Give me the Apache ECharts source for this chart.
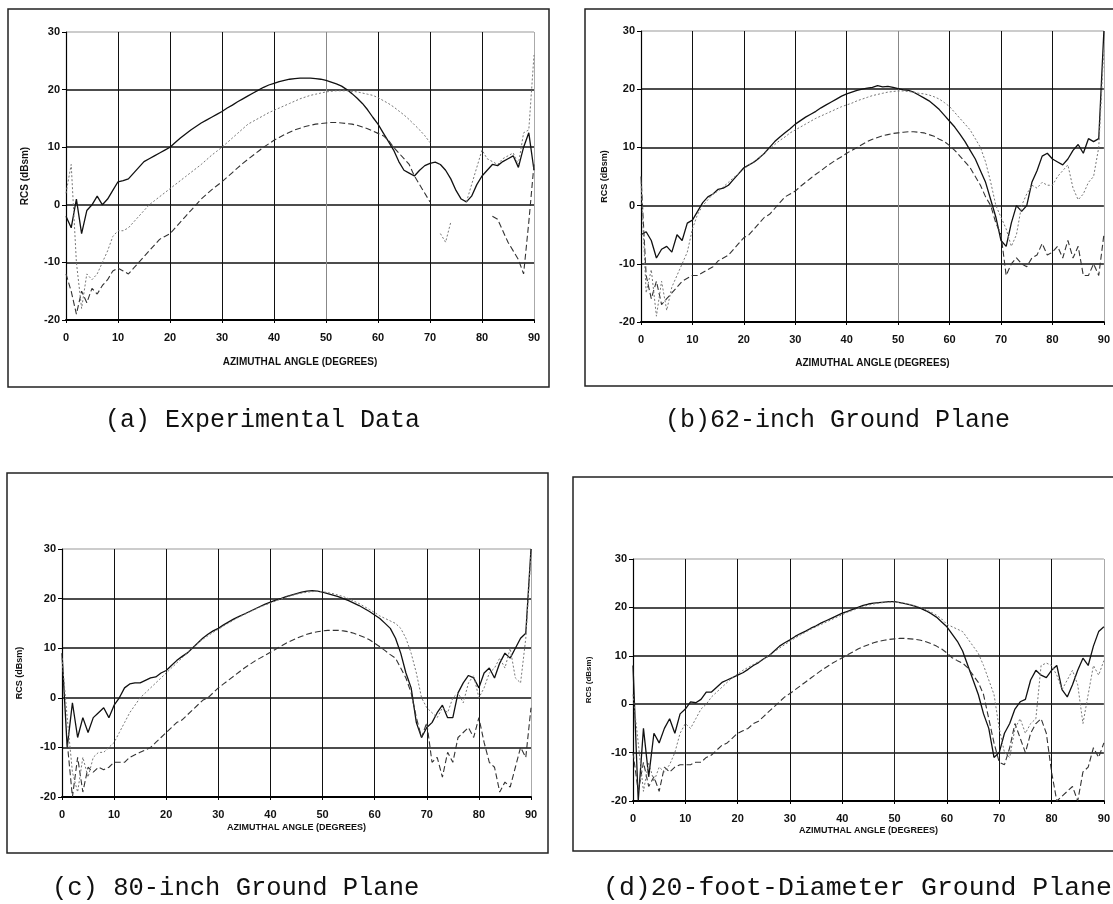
<!DOCTYPE html>
<html>
<head>
<meta charset="utf-8">
<script src="https://cdn.jsdelivr.net/npm/echarts@6/dist/echarts.min.js"></script>
<style>
html,body{margin:0;padding:0;background:#fff;}
#chart{width:1113px;height:904px;}
</style>
</head>
<body>
<div id="chart"></div>
<script>
// ---- shared axis values ----
const angles = [0,1,2,3,4,5,6,7,8,9,10,11,12,13,14,15,16,17,18,19,20,21,22,23,24,25,26,27,28,29,30,31,32,33,34,35,36,37,38,39,40,41,42,43,44,45,46,47,48,49,50,51,52,53,54,55,56,57,58,59,60,61,62,63,64,65,66,67,68,69,70,71,72,73,74,75,76,77,78,79,80,81,82,83,84,85,86,87,88,89,90];
const xTicks = [0,10,20,30,40,50,60,70,80,90];
const yTicks = [-20,-10,0,10,20,30];
const xName = 'AZIMUTHAL ANGLE (DEGREES)';
const yName = 'RCS (dBsm)';
const captions = ['(a) Experimental Data', '(b)62-inch Ground Plane', '(c) 80-inch Ground Plane', '(d)20-foot-Diameter Ground Plane'];

// ---- (a) Experimental Data ----
const a_solid = [-2,-4,1,-5,-1,0,1.5,0,1,2.5,
4,4.2,4.5,5.5,6.5,7.5,8,8.5,9,9.5,
10,10.8,11.6,12.3,13,13.6,14.2,14.7,15.2,15.7,
16.2,16.8,17.3,17.9,18.4,18.9,19.4,19.9,20.4,20.8,
21.1,21.4,21.6,21.8,21.9,22,22,22,21.9,21.8,
21.6,21.3,21,20.6,20,19.3,18.5,17.6,16.5,15.2,
14,12.5,11,9.5,7.5,6,5.5,5,6,6.8,
7.2,7.4,7,6,4.5,2.5,1,0.5,1.5,3.5,
5,6,7,6.8,7.5,8,8.5,6.5,10,12.5,
6];
const a_dashed = [-12,-15,-19,-15,-17,-14.5,-15.5,-14,-13,-11.5,
-11,-11.5,-12,-11,-10,-9,-8,-7,-6,-5.5,
-5,-4,-3,-2,-1,0,1,1.8,2.6,3.3,
4,4.8,5.6,6.4,7.2,7.9,8.6,9.3,10,10.6,
11.2,11.7,12.2,12.6,13,13.3,13.6,13.8,14,14.1,
14.2,14.3,14.3,14.2,14.1,14,13.8,13.5,13.2,12.8,
12.4,12,11.2,10,9,8,7,5,3.5,2,
0.5,null,null,null,null,null,null,null,null,null,
null,null,-2,-2.5,-4.5,-6.5,-8,-9.5,-12,-3,
7];
const a_dotted = [2,7,-10,-18,-12,-13,-12,-10,-8,-5.5,
-4.5,-4.5,-4,-3,-2,-1,0,0.7,1.4,2.1,
2.8,3.5,4.2,4.9,5.6,6.3,7,7.8,8.6,9.3,
10,10.8,11.6,12.4,13.2,14,14.5,15,15.5,16,
16.4,16.8,17.2,17.6,18,18.4,18.7,19,19.2,19.4,
19.6,19.7,19.8,19.8,19.8,19.7,19.6,19.4,19.2,19,
18.6,18.1,17.6,17,16.3,15.6,14.8,13.9,13,12,
10.8,null,-5,-6.5,-3,null,null,0.5,3.5,6.5,
9.5,8,7.5,7,8,8.5,9,7,12.5,13,
26];

// ---- (b) 62-inch Ground Plane ----
const b_solid = [-5,-4.5,-6,-9,-7.5,-7,-8,-5,-6,-3,
-2.5,-1,0.5,1.5,2,2.8,3,3.5,4.5,5.5,
6.5,7,7.5,8.2,9,10,11,11.8,12.5,13.2,
14,14.6,15.2,15.7,16.2,16.8,17.3,17.8,18.3,18.8,
19.2,19.5,19.8,20,20.2,20.3,20.6,20.4,20.5,20.3,
20.1,19.9,19.8,19.5,19,18.5,18,17.3,16.5,15.5,
14.5,13.5,12.3,11,9.5,8,6,4,1,-2,
-6,-7,-3,0,-1,0,4,6,8.5,9,
8,7.5,7,8,9.5,10.5,9,11.5,11,11.5,
30];
const b_dashed = [5,-12,-16,-13,-17,-16,-15,-14,-13,-12.5,
-12,-12,-11.5,-11,-10.5,-9.5,-9,-8.5,-7.5,-6.5,
-5.5,-5,-4,-3,-2,-1.5,-0.5,0.5,1.5,2,
2.5,3.3,4,4.7,5.4,6,6.7,7.3,7.9,8.4,
9,9.5,10,10.5,11,11.4,11.7,12,12.2,12.4,
12.5,12.6,12.7,12.7,12.6,12.5,12.2,11.9,11.4,11,
10.3,9.5,8.5,7.5,6.5,5,3.5,1.5,0,-3,
-5,-12,-10,-9,-10,-10.5,-9,-8.5,-6.5,-8.5,
-8,-7,-9,-6,-9,-7,-12,-12,-10,-12,
-5];
const b_dotted = [4,-15,-11,-19,-13,-18,-14,-12,-10,-8,
-4,-1.5,0,1,2,2.5,3.2,4,4.8,5.5,
6.2,7,7.6,8.3,9,9.8,10.5,11.2,11.8,12.5,
13,13.5,14,14.5,15,15.4,15.8,16.2,16.6,17,
17.3,17.6,18,18.3,18.6,18.9,19.1,19.3,19.5,19.6,
19.7,19.7,19.6,19.5,19.3,19.2,19,18.7,18.3,17.7,
17,16,15,14,13,11.5,10,7.5,4,0,
-2,-4,-7,-5,0,2,3.5,3,4,3.5,
3.5,5,6,7,3,1,2,4,5,10,
27];

// ---- (c) 80-inch Ground Plane ----
const c_solid = [9,-10,-1,-8,-4,-7,-4,-3,-2,-4,
-1.5,0,2,2.8,3,3,3.5,4,4.2,5,
5.5,6.5,7.5,8.3,9,10,11,12,12.8,13.5,
14,14.7,15.3,15.9,16.4,16.9,17.4,17.9,18.4,18.9,
19.3,19.7,20,20.4,20.7,21,21.3,21.5,21.6,21.5,
21.3,21,20.7,20.4,20,19.6,19.1,18.6,18,17.4,
16.7,16,15,14,12,9,5,2,-5,-8,
-6,-5,-3,-1.5,-4,-4,1,3,4.5,4,
2,5,6,4,7,9,8,10,12,13,
30];
const c_dashed = [null,-9,-20,-12,-19,-14,-15,-14,-14.5,-14,
-13,-13,-13,-12,-11.5,-11,-10.5,-10,-9,-8,
-7,-6,-5,-4.5,-3.5,-2.5,-1.5,-0.5,0,1,
2,2.8,3.6,4.4,5.2,6,6.7,7.4,8,8.6,
9.2,9.8,10.4,11,11.5,12,12.4,12.8,13.1,13.3,
13.5,13.6,13.6,13.6,13.5,13.3,13,12.6,12.2,11.7,
11,10.3,9.5,8.7,8,6,4,1,-4,-8,
-5,-13,-12,-16,-11,-13,-8,-7,-6,-8,
-4,-9,-13,-14,-19,-17,-18,-14,-10,-12,
-2];
const c_dotted = [8,-4,-15,-19,-12,-16,-12,-11,-11,-10,
-9,-7,-5,-3,-1.5,0,1,2,3,4,
5,6,7,8,9,10,11,11.8,12.5,13.2,
13.8,14.5,15.1,15.7,16.3,16.8,17.3,17.8,18.3,18.7,
19.1,19.5,19.9,20.3,20.6,20.9,21.1,21.3,21.4,21.5,
21.4,21.2,21,20.7,20.4,20,19.5,19,18.4,17.8,
17.2,16.5,16,15.5,15,14,12,9,5,0,
-2,-3,-4,-2,-3,0,1,-1,3,4.5,
0,2,5,6,8,6,10,4,3,12,
29];

// ---- (d) 20-foot-Diameter Ground Plane ----
const d_solid = [8,-20,-5,-15,-6,-8,-5,-3,-6,-2,
-1,0.5,0.3,1,2.5,2.5,3.5,4.5,5,5.5,
6,6.5,7.2,8,8.6,9.4,10,11,12,12.7,
13.3,14,14.6,15.1,15.7,16.2,16.8,17.3,17.8,18.3,
18.8,19.2,19.6,20,20.4,20.7,20.9,21,21.1,21.2,
21.2,21,20.8,20.5,20.2,19.8,19.3,18.7,18,17,
16,14.5,13,11,8,5,2,-2,-5,-11,
-10,-6,-4,-1,0.5,1,5,7,6,5.5,
7,8,3,1.5,4,7,9.5,8,12,15,
16];
const d_dashed = [-10,-18,-12,-17,-15,-18,-13,-14,-13,-12.5,
-12.5,-12.5,-12,-12,-11,-10.5,-9.5,-8.5,-8,-7,
-6,-5.5,-5,-4,-3.5,-2.5,-1.5,-0.5,0.5,1.5,
2.2,3,3.8,4.6,5.4,6.2,7,7.7,8.4,9,
9.6,10.2,10.8,11.4,11.9,12.3,12.7,13,13.2,13.4,
13.5,13.6,13.6,13.5,13.4,13.2,12.9,12.5,12,11.4,
10.6,9.6,9,8.5,7.5,6,4.5,2,-3,-8,
-12,-12.5,-9,-4,-7,-10,-6,-4,-3,-6,
-14,-20,-19,-18,-17,-20,-14,-13,-9,-11,
-8];
const d_dotted = [2,-8,-18,-12,-16,-13,-14,-12.5,-10,-6,
-4,-5,-3,-1,0,1.5,2.5,3.5,4.5,5.5,
6.2,7,7.6,8.2,8.8,9.3,10,10.8,11.6,12.3,
13,13.7,14.3,14.9,15.5,16,16.5,17,17.5,18,
18.5,19,19.4,19.8,20.2,20.5,20.7,20.9,21,21.1,
21.1,21,20.8,20.6,20.3,20,19.5,19,18.4,17.6,
16.5,16,15.5,15,13.5,12,10.5,8,5,2,
-5,-10,-11,-5,-3,-6,-4,-3,8,8.5,
8,6,3,5,7,4,-4,2,8,6,
9];

const panelData = [
  [a_solid, a_dashed, a_dotted],
  [b_solid, b_dashed, b_dotted],
  [c_solid, c_dashed, c_dotted],
  [d_solid, d_dashed, d_dotted]
];

// ---- layout (pixels) ----
const layout = [
  {grid:{left:66, top:32, width:468, height:288}, frame:[8,9,541,378], xGap:37, yGap:36, xNameSize:10, yNameSize:10, cap:[105,420], capSize:25, mid:'#888'},
  {grid:{left:641, top:31, width:466, height:291}, frame:[585,9,540,377], xGap:36, yGap:32, xNameSize:10, yNameSize:9, cap:[665,420], capSize:25, mid:'#888'},
  {grid:{left:62, top:549, width:469, height:248}, frame:[7,473,541,380], xGap:26, yGap:38, xNameSize:9, yNameSize:9, cap:[52,888], capSize:25.5, mid:'#111'},
  {grid:{left:633, top:559, width:486, height:242}, frame:[573,477,550,374], xGap:25, yGap:40, xNameSize:9, yNameSize:8, cap:[603,888], capSize:26.5, mid:'#222'}
];

const labelFont = {fontFamily:'Liberation Sans, Arial', fontWeight:'bold', color:'#111'};
const grids = [], xAxes = [], yAxes = [], series = [], graphics = [];
const styles = [
  {color:'#111', width:1.3, type:'solid'},
  {color:'#333', width:1.1, type:[6,3]},
  {color:'#777', width:1, type:[2,2]}
];

layout.forEach((L, p) => {
  grids.push(Object.assign({containLabel:false}, L.grid));
  xAxes.push({
    type:'value', gridIndex:p, min:xTicks[0], max:xTicks[xTicks.length-1], interval:10,
    name:xName, nameLocation:'middle', nameGap:L.xGap,
    nameTextStyle:Object.assign({fontSize:L.xNameSize}, labelFont),
    axisLine:{show:true, onZero:false, lineStyle:{color:'#000', width:2}},
    axisTick:{show:true, length:3, lineStyle:{color:'#000'}},
    axisLabel:Object.assign({fontSize:11, margin:12}, labelFont),
    splitLine:{show:true, lineStyle:{color:['#111','#111','#111','#111','#111',L.mid,'#111','#111','#111','#aaa'], width:1}}
  });
  yAxes.push({
    type:'value', gridIndex:p, min:yTicks[0], max:yTicks[yTicks.length-1], interval:10,
    name:yName, nameLocation:'middle', nameGap:L.yGap, nameRotate:90,
    nameTextStyle:Object.assign({fontSize:L.yNameSize}, labelFont),
    axisLine:{show:true, onZero:false, lineStyle:{color:'#000', width:1.2}},
    axisTick:{show:true, length:4, lineStyle:{color:'#000'}},
    axisLabel:Object.assign({fontSize:11, margin:6}, labelFont),
    splitLine:{show:true, lineStyle:{color:['#000','#111','#111','#111','#111','#bbb'], width:1.7}}
  });
  panelData[p].forEach((vals, s) => {
    series.push({
      type:'line', xAxisIndex:p, yAxisIndex:p, showSymbol:false, animation:false,
      connectNulls:false, z:3,
      lineStyle:styles[s],
      data:angles.map((a, i) => [a, vals[i]])
    });
  });
  graphics.push({
    type:'rect', shape:{x:L.frame[0], y:L.frame[1], width:L.frame[2], height:L.frame[3]},
    style:{fill:'none', stroke:'#222', lineWidth:1.5}, silent:true
  });
  graphics.push({
    type:'text', x:L.cap[0], y:L.cap[1],
    style:{text:captions[p], fontFamily:'Liberation Mono, Courier New, monospace', fontSize:L.capSize, fill:'#111', verticalAlign:'middle', align:'left'}
  });
});

const chart = echarts.init(document.getElementById('chart'), null, {renderer:'canvas'});
chart.setOption({
  backgroundColor:'#fff',
  animation:false,
  grid:grids, xAxis:xAxes, yAxis:yAxes, series:series, graphic:graphics
});
</script>
</body>
</html>
